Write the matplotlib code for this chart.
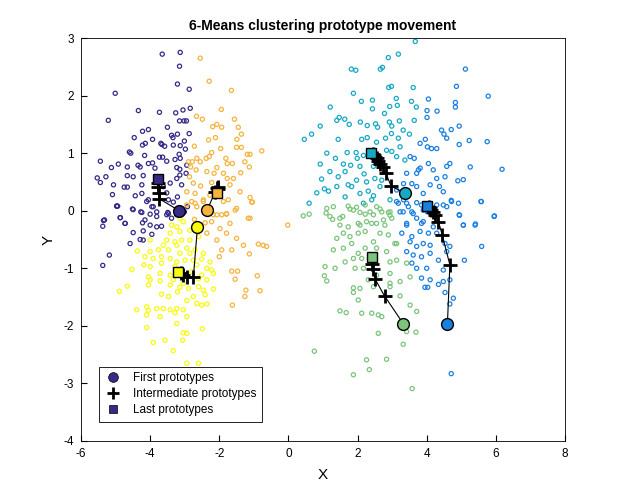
import matplotlib

matplotlib.use("Agg")
import matplotlib.pyplot as plt
from matplotlib.lines import Line2D

plt.rcParams["font.family"] = ["Liberation Sans", "DejaVu Sans"]
plt.rcParams["axes.unicode_minus"] = False

# ---- data points per cluster ----
purple_x = [-3.65, -3.13, -3.15, -3.21, -2.87, -5.01, -4.34, -3.73, -3.26, -3.05, -2.84, -5.21, -3.15, -3.02,
            -2.95, -3.50, -4.05, -4.22, -2.87, -4.46, -3.93, -3.38, -3.34, -3.21, -3.01, -4.14, -4.22, -3.69,
            -3.66, -3.58, -3.33, -3.13, -2.98, -4.60, -4.56, -4.16, -3.73, -3.64, -3.16, -3.13, -5.44, -4.92,
            -5.12, -4.66, -4.35, -4.29, -4.05, -3.93, -3.52, -3.28, -3.23, -3.14, -2.94, -5.53, -5.44, -5.28,
            -5.06, -4.75, -4.66, -4.66, -4.49, -4.20, -4.24, -4.43, -4.24, -5.09, -4.96, -4.94, -4.51, -4.05,
            -3.95, -3.52, -3.47, -3.21, -3.33, -2.92, -5.32, -4.86, -4.72, -4.27, -4.22, -4.00, -3.81, -3.49,
            -3.23, -3.01, -2.96, -3.14, -3.23, -3.09, -3.42, -3.62, -3.86, -3.73, -4.97, -4.10, -3.91, -4.49,
            -4.24, -3.81, -3.52, -4.87, -5.35, -5.37, -4.73, -4.15, -4.00, -3.81, -3.67, -4.49, -4.20, -3.95,
            -4.29, -4.20, -4.58, -5.18, -5.37, -3.47, -3.38]
purple_y = [2.72, 2.75, 2.51, 2.20, 2.11, 2.04, 1.74, 1.71, 1.70, 1.75, 1.78, 1.57, 1.56, 1.56,
            1.56, 1.45, 1.41, 1.38, 1.34, 1.27, 1.24, 1.31, 1.27, 1.33, 1.21, 1.17, 1.14, 1.17,
            1.15, 1.12, 1.14, 1.13, 1.07, 1.02, 1.00, 0.96, 0.93, 0.93, 0.98, 0.91, 0.86, 0.81,
            0.75, 0.76, 0.79, 0.76, 0.82, 0.83, 0.86, 0.89, 0.75, 0.72, 0.79, 0.57, 0.49, 0.59,
            0.45, 0.41, 0.41, 0.61, 0.59, 0.61, 0.45, 0.26, 0.30, 0.28, 0.08, 0.08, 0.03, 0.19,
            0.07, 0.31, 0.19, 0.24, 0.15, 0.07, -0.16, -0.12, -0.22, -0.02, -0.21, -0.06, -0.10, -0.03,
            -0.07, -0.02, 0.65, 0.62, 0.56, 0.45, 0.48, 0.42, 0.74, 0.59, 0.08, 0.16, 0.07, 0.02,
            -0.03, -0.02, -0.07, -0.12, -0.17, -0.27, -0.22, -0.16, -0.25, -0.28, -0.27, -0.38, -0.35, -0.41,
            -0.50, -0.51, -0.57, -0.77, -0.95, -0.05, -0.13]

orange_x = [-2.55, -2.29, -1.65, -1.94, -1.56, -2.66, -2.49, -2.07, -2.19, -1.93, -1.45, -1.36, -2.31, -2.11,
            -1.49, -1.36, -1.50, -1.96, -2.72, -1.11, -1.19, -0.77, -2.29, -2.38, -2.22, -2.65, -2.78, -2.89,
            -2.55, -1.81, -1.77, -1.62, -1.26, -1.13, -2.83, -2.67, -2.36, -2.07, -2.15, -1.88, -1.77, -1.59,
            -1.38, -2.86, -2.75, -2.54, -2.22, -1.69, -1.40, -1.11, -1.04, -2.94, -2.70, -2.46, -1.88, -1.54,
            -2.65, -2.17, -1.93, -1.79, -1.11, -2.72, -2.41, -0.02, -1.74, -2.27, -2.80, -2.94, -2.70, -2.46,
            -2.07, -1.79, -1.50, -1.06, -1.16, -1.69, -1.98, -2.22, -2.36, -1.79, -1.50, -2.07, -1.30, -1.64,
            -1.93, -0.87, -0.73, -0.63, -1.13, -1.64, -1.47, -1.54, -0.90, -1.23, -0.82, -1.26, -1.62, -2.00]
orange_y = [2.65, 2.25, 2.09, 1.76, 1.59, 1.64, 1.59, 1.50, 1.46, 1.45, 1.45, 1.33, 1.23, 1.27,
            1.24, 1.10, 1.10, 1.08, 1.12, 0.98, 0.98, 1.04, 0.94, 0.91, 1.01, 0.91, 0.85, 0.85,
            0.85, 0.91, 0.82, 0.82, 0.85, 0.76, 0.76, 0.71, 0.68, 0.75, 0.65, 0.65, 0.56, 0.56,
            0.66, 0.59, 0.48, 0.43, 0.49, 0.45, 0.33, 0.23, 0.15, 0.33, 0.30, 0.19, 0.16, 0.01,
            0.07, -0.07, -0.07, -0.06, -0.13, -0.15, -0.21, -0.25, 0.19, 0.27, 0.16, 0.10, 0.13, 0.16,
            -0.07, -0.05, 0.04, 0.15, -0.13, -0.22, -0.31, -0.19, -0.39, -0.39, -0.48, -0.51, -0.60, -0.68,
            -0.68, -0.58, -0.60, -0.62, -0.75, -1.05, -1.05, -1.19, -1.13, -1.38, -1.39, -1.49, -1.64, -0.80]

yellow_x = [-3.14, -3.23, -3.38, -3.04, -2.85, -2.60, -3.14, -3.42, -3.09, -3.52, -3.28, -2.85, -4.00, -3.62,
            -3.23, -2.94, -2.70, -4.37, -4.00, -3.76, -3.47, -3.14, -2.85, -2.46, -4.15, -3.91, -3.67, -3.42,
            -3.23, -2.99, -2.75, -2.51, -2.27, -4.18, -4.00, -3.67, -3.28, -2.65, -2.36, -2.22, -4.53, -4.05,
            -3.71, -3.42, -2.80, -2.51, -2.17, -4.00, -3.71, -3.33, -3.04, -2.60, -2.36, -4.89, -4.66, -4.05,
            -3.42, -3.14, -2.89, -2.60, -2.46, -2.17, -3.67, -3.21, -3.47, -2.75, -2.41, -2.94, -2.65, -2.51,
            -2.36, -4.10, -4.05, -3.81, -3.62, -3.42, -3.23, -3.04, -4.39, -4.10, -3.71, -3.28, -2.94, -3.23,
            -4.10, -2.49, -3.04, -2.94, -3.91, -3.57, -3.06, -3.33, -2.94, -2.60]
yellow_y = [-0.13, -0.28, -0.25, -0.19, -0.34, -0.45, -0.36, -0.39, -0.51, -0.51, -0.54, -0.51, -0.51, -0.60,
            -0.60, -0.65, -0.68, -0.70, -0.71, -0.68, -0.68, -0.74, -0.74, -0.74, -0.80, -0.83, -0.80, -0.83,
            -0.89, -0.86, -0.86, -0.84, -0.89, -0.94, -0.97, -0.91, -0.97, -0.94, -1.00, -1.03, -1.02, -1.15,
            -1.09, -1.12, -1.06, -1.12, -1.09, -1.20, -1.22, -1.20, -1.26, -1.18, -1.20, -1.40, -1.31, -1.29,
            -1.29, -1.33, -1.35, -1.32, -1.38, -1.36, -1.45, -1.41, -1.49, -1.49, -1.46, -1.56, -1.61, -1.64,
            -1.62, -1.67, -1.73, -1.70, -1.70, -1.72, -1.70, -1.72, -1.72, -1.81, -1.84, -1.77, -1.84, -1.96,
            -2.03, -2.05, -2.12, -2.13, -2.29, -2.25, -2.25, -2.43, -2.65, -2.65]

teal_x = [3.67, 2.89, 3.18, 1.82, 1.95, 2.66, 2.72, 1.88, 2.90, 2.98, 3.61, 2.11, 2.43, 3.12, 3.56, 1.21,
          2.43, 2.93, 3.15, 3.70, 1.40, 1.47, 1.63, 2.08, 2.52, 2.78, 2.92, 3.21, 3.64, 0.92, 1.76, 2.28,
          2.58, 2.99, 3.32, 0.46, 0.67, 1.44, 2.12, 2.28, 2.55, 2.81, 2.98, 3.18, 3.50, 1.11, 1.36, 1.70,
          1.96, 1.99, 2.17, 2.84, 2.99, 3.13, 3.23, 3.37, 0.92, 1.59, 1.80, 2.07, 2.46, 1.64, 0.96, 1.20,
          1.44, 1.73, 1.97, 2.19, 2.26, 2.50, 2.70, 0.82, 1.04, 1.16, 1.40, 2.07, 2.31, 2.46, 2.65, 0.60,
          2.17, 1.64, 1.83, 2.41, 2.94]
teal_y = [2.94, 2.66, 2.72, 2.46, 2.44, 2.46, 2.49, 2.04, 2.14, 2.16, 2.14, 1.90, 1.92, 1.95, 1.90, 1.80,
          1.77, 1.81, 1.83, 1.80, 1.57, 1.62, 1.59, 1.54, 1.51, 1.69, 1.54, 1.56, 1.57, 1.47, 1.50, 1.48,
          1.45, 1.47, 1.40, 1.24, 1.33, 1.24, 1.24, 1.27, 1.19, 1.26, 1.34, 1.26, 1.33, 1.00, 0.91, 1.01,
          1.01, 0.91, 0.96, 1.05, 1.03, 0.94, 1.11, 0.88, 0.81, 0.81, 0.79, 0.77, 0.77, 0.68, 0.55, 0.68,
          0.59, 0.45, 0.53, 0.64, 0.50, 0.56, 0.53, 0.31, 0.38, 0.34, 0.42, 0.30, 0.34, 0.26, 0.42, 0.13,
          0.13, 0.24, 0.42, 0.19, 0.19]

blue_x = [5.12, 4.86, 5.78, 4.05, 4.83, 4.83, 4.30, 4.01, 4.01, 4.43, 4.71, 4.94, 4.50, 4.58, 5.23, 5.75,
          4.94, 3.96, 3.81, 4.02, 4.14, 4.29, 3.52, 3.64, 3.76, 3.71, 3.81, 4.05, 4.19, 4.29, 4.58, 4.67,
          4.53, 4.90, 5.06, 5.26, 6.18, 5.57, 5.95, 3.42, 3.33, 3.57, 3.71, 3.90, 4.10, 4.37, 4.48, 4.71,
          4.95, 5.06, 5.41, 3.18, 3.33, 3.47, 3.57, 3.71, 3.85, 4.02, 4.29, 4.58, 4.92, 3.85, 3.42, 3.13,
          3.23, 3.13, 3.42, 3.71, 3.32, 3.61, 3.90, 4.48, 4.72, 4.94, 5.58, 5.96, 5.06, 5.40, 3.90, 4.19,
          3.42, 3.28, 3.57, 3.81, 4.05, 4.29, 3.52, 3.71, 3.90, 4.10, 4.53, 4.67, 5.59, 3.42, 3.61, 3.85,
          4.10, 4.34, 4.58, 5.09, 3.57, 3.71, 4.00, 4.48, 3.85, 4.10, 4.34, 4.48, 4.67, 3.95, 4.03, 4.53,
          4.77, 4.67, 4.71]
blue_y = [2.46, 2.16, 1.99, 1.94, 1.88, 1.80, 1.73, 1.74, 1.62, 1.40, 1.41, 1.47, 1.33, 1.26, 1.22, 1.20,
          1.15, 1.24, 1.17, 1.11, 1.08, 1.08, 0.94, 0.91, 0.71, 0.65, 0.74, 0.82, 0.71, 0.56, 0.77, 0.82,
          0.59, 0.52, 0.54, 0.76, 0.72, 0.16, -0.10, 0.65, 0.47, 0.47, 0.42, 0.30, 0.45, 0.42, 0.33, 0.18,
          -0.08, -0.25, -0.23, 0.13, 0.19, 0.07, -0.02, -0.13, 0.10, -0.02, 0.10, 0.07, 0.13, -0.22, -0.22, 0.36,
          -0.02, 0.16, 0.13, 0.14, -0.02, -0.05, 0.01, 0.10, 0.16, -0.07, 0.16, -0.09, -0.25, -0.25, -0.19, -0.28,
          -0.25, -0.39, -0.45, -0.36, -0.39, -0.39, -0.54, -0.62, -0.57, -0.60, -0.57, -0.62, -0.62, -0.71, -0.77, -0.80,
          -0.74, -0.86, -0.71, -0.86, -0.91, -1.00, -1.00, -1.03, -1.17, -1.20, -1.28, -1.23, -1.20, -1.33, -1.33, -1.42,
          -1.52, -1.62, -2.83]

green_x = [0.43, 0.60, 1.11, 1.30, 1.73, 1.88, 2.07, 2.22, 2.36, 2.55, 2.70, 2.94, 1.49, 2.02, 2.41, 2.75,
           2.94, 1.09, 1.20, 1.28, 1.57, 1.78, 1.97, 2.22, 2.46, 2.65, 2.89, 2.99, 1.49, 1.73, 2.07, 2.26,
           2.55, 2.79, 1.40, 1.59, 1.78, 2.02, 2.22, 2.46, 2.65, 2.89, 3.13, 1.30, 1.59, 1.83, 2.02, 2.22,
           2.55, 2.84, 3.08, 1.64, 1.88, 2.12, 2.94, 3.13, 1.06, 1.35, 1.93, 2.17, 2.94, 3.42, 1.04, 1.11,
           2.31, 2.55, 2.94, 3.23, 3.52, 1.88, 2.07, 1.88, 2.02, 2.46, 2.94, 3.23, 1.49, 1.67, 2.12, 2.41,
           2.60, 2.70, 3.71, 3.52, 3.42, 3.69, 2.60, 3.32, 0.75, 2.26, 2.84, 2.34, 1.88, 3.58]
green_y = [-0.09, -0.06, 0.04, 0.07, 0.08, 0.01, -0.03, 0.10, -0.02, 0.07, -0.02, -0.02, -0.13, -0.22, -0.22, -0.16,
           -0.08, -0.04, -0.10, -0.15, -0.10, 0.03, 0.06, -0.06, -0.07, 0.03, -0.03, -0.13, -0.25, -0.28, -0.25, -0.19,
           -0.22, -0.25, -0.48, -0.39, -0.45, -0.39, -0.36, -0.54, -0.39, -0.42, -0.57, -0.68, -0.65, -0.57, -0.74, -0.65,
           -0.65, -0.71, -0.57, -0.89, -0.83, -0.83, -0.89, -0.86, -0.97, -1.00, -1.00, -1.00, -1.09, -0.91, -1.13, -1.22,
           -1.20, -1.12, -1.26, -1.23, -1.15, -1.34, -1.35, -1.42, -1.55, -1.32, -1.32, -1.48, -1.74, -1.77, -1.78, -1.78,
           -1.81, -1.84, -1.75, -1.64, -2.10, -2.11, -2.13, -2.32, -2.44, -2.59, -2.58, -2.76, -2.85, -3.09]

# ---- prototype paths (first -> intermediate -> last) ----
purple_path_x = [-3.16, -3.74, -3.75, -3.76, -3.78, -3.78]
purple_path_y = [0.00, 0.21, 0.30, 0.42, 0.48, 0.545]
orange_path_x = [-2.35, -2.12, -2.08, -2.05, -2.03, -2.06]
orange_path_y = [0.01, 0.33, 0.40, 0.42, 0.38, 0.30]
yellow_path_x = [-2.63, -2.75, -2.94, -3.05, -3.12, -3.18]
yellow_path_y = [-0.28, -1.16, -1.15, -1.11, -1.08, -1.065]
teal_path_x = [3.37, 2.97, 2.82, 2.73, 2.66, 2.60, 2.55, 2.51, 2.48, 2.45, 2.40]
teal_path_y = [0.30, 0.43, 0.65, 0.76, 0.82, 0.87, 0.91, 0.94, 0.96, 0.98, 1.00]
blue_path_x = [4.60, 4.67, 4.45, 4.34, 4.25, 4.18, 4.13, 4.09, 4.06, 4.02]
blue_path_y = [-1.96, -0.94, -0.42, -0.19, -0.07, -0.02, 0.02, 0.05, 0.07, 0.09]
green_path_x = [3.32, 2.78, 2.51, 2.44, 2.42, 2.43]
green_path_y = [-1.96, -1.48, -1.19, -1.02, -0.92, -0.81]

clusters = [
    (purple_x, purple_y, purple_path_x, purple_path_y, "#352a87"),
    (orange_x, orange_y, orange_path_x, orange_path_y, "#f5b43e"),
    (yellow_x, yellow_y, yellow_path_x, yellow_path_y, "#f9fb0e"),
    (teal_x, teal_y, teal_path_x, teal_path_y, "#16a9c4"),
    (blue_x, blue_y, blue_path_x, blue_path_y, "#1a80e0"),
    (green_x, green_y, green_path_x, green_path_y, "#7bc47c"),
]

fig = plt.figure(figsize=(6.24, 4.97), dpi=100)
ax = fig.add_axes([0.1298, 0.1127, 0.7756, 0.8108])

for xs, ys, _, _, col in clusters:
    ax.scatter(xs, ys, s=9, facecolors="none", edgecolors=col, linewidths=0.9, zorder=2)

for _, _, px, py, col in clusters:
    ax.plot(px, py, color="k", lw=0.8, zorder=3)
    ax.plot(px[1:-1], py[1:-1], ls="none", marker="+", ms=10, mew=2, color="k", zorder=4)
    ax.plot(px[0], py[0], ls="none", marker="o", ms=8.5, mfc=col, mec="k", mew=1, zorder=5)
    ax.plot(px[-1], py[-1], ls="none", marker="s", ms=7.5, mfc=col, mec="k", mew=1, zorder=5)

ax.set_xlim(-6, 8)
ax.set_ylim(-4, 3)
ax.set_xticks(range(-6, 9, 2))
ax.set_yticks(range(-4, 4))
ax.tick_params(direction="in", length=4, labelsize=8.5, pad=5)
for sp in ax.spines.values():
    sp.set_linewidth(0.6)
ax.set_xlabel("X", fontsize=11, labelpad=6)
ax.set_ylabel("Y", fontsize=11, labelpad=6)
ax.set_title("6-Means clustering prototype movement", fontsize=10, fontweight="bold", pad=6)

handles = [
    Line2D([], [], ls="none", marker="o", ms=7, mfc="#352a87", mec="k", mew=0.5),
    Line2D([], [], ls="none", marker="+", ms=8, mew=2, color="k"),
    Line2D([], [], ls="none", marker="s", ms=6, mfc="#352a87", mec="k", mew=0.5),
]
leg = ax.legend(handles, ["First prototypes", "Intermediate prototypes", "Last prototypes"],
                loc="lower left", bbox_to_anchor=(0.024, 0.033), fontsize=8.5, fancybox=False,
                edgecolor="k", framealpha=1, borderpad=0.45, labelspacing=0.35, handlelength=1.6,
                handletextpad=0.9)
leg.get_frame().set_linewidth(0.6)

fig.savefig("out.png", dpi=100)
